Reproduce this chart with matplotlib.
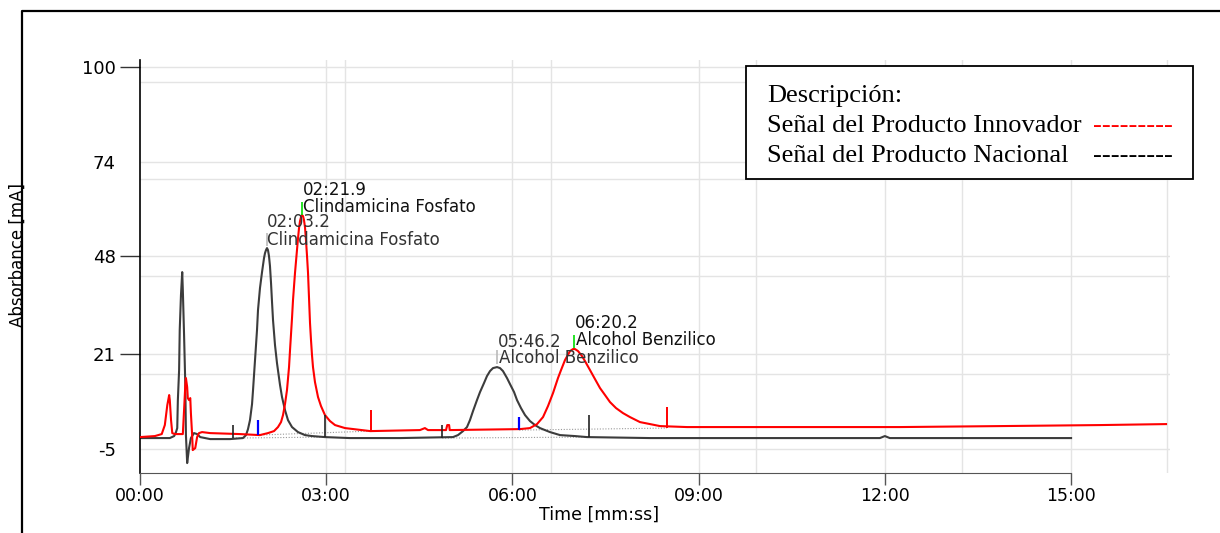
import matplotlib
matplotlib.use("Agg")
import matplotlib.pyplot as plt
from matplotlib.lines import Line2D
from matplotlib.patches import Rectangle

# Producto Nacional (black trace), time in minutes, absorbance in mA
nac_t = [0.00, 0.32, 0.48, 0.55, 0.58, 0.60, 0.61, 0.63, 0.64, 0.66, 0.68, 0.69,
         0.71, 0.73, 0.74, 0.76, 0.77, 0.79, 0.82, 0.87, 0.92, 0.97, 1.13, 1.45,
         1.659, 1.708, 1.740, 1.772, 1.805, 1.821, 1.853, 1.885, 1.901, 1.933, 1.966, 1.998,
         2.014, 2.030, 2.046, 2.062, 2.078, 2.094, 2.111, 2.127, 2.143, 2.175, 2.207, 2.256,
         2.288, 2.336, 2.384, 2.449, 2.545, 2.658, 2.771, 2.98, 3.38, 4.19,
         5.043, 5.123, 5.204, 5.268, 5.316, 5.365, 5.429, 5.478, 5.542, 5.590, 5.639, 5.687,
         5.752, 5.800, 5.848, 5.913, 5.961, 6.026, 6.074, 6.138, 6.203, 6.283, 6.364, 6.444,
         6.605, 6.767, 7.008, 7.202, 8.22, 9.02, 10.63, 11.92, 12.00, 12.08, 13.86, 15.00]
nac_v = [-2.10, -2.10, -2.10, -1.55, -0.45, 0.65, 8.36, 16.62, 27.64, 37.28, 43.61, 38.66,
         26.26, 12.49, -1.28, -8.99, -7.61, -4.86, -2.10, -0.73, -1.00, -1.83, -2.38, -2.38,
         -2.10, -1.28, 0.37, 2.85, 7.26, 11.12, 19.38, 27.64, 33.14, 39.21, 43.61, 47.47,
         48.85, 49.67, 50.22, 49.67, 48.02, 45.27, 40.58, 35.35, 30.39, 23.51, 18.55, 12.49,
         9.19, 5.61, 2.85, 0.93, -0.45, -1.28, -1.55, -1.83, -2.10, -2.10,
         -1.83, -1.28, -0.18, 0.93, 2.85, 5.33, 8.36, 10.57, 13.04, 14.97, 16.35, 17.17,
         17.45, 17.17, 16.35, 14.42, 12.77, 10.57, 8.36, 6.16, 4.23, 2.58, 1.48, 0.65,
         -0.45, -1.28, -1.55, -1.83, -2.10, -2.10, -2.10, -2.10, -1.55, -2.10, -2.10, -2.10]

# Producto Innovador (red trace)
inn_t = [0.00, 0.24, 0.35, 0.40, 0.44, 0.47, 0.48, 0.50, 0.52, 0.56, 0.69, 0.71,
         0.73, 0.74, 0.76, 0.77, 0.79, 0.81, 0.82, 0.84, 0.85, 0.89, 0.92, 0.95,
         1.00, 1.13, 1.61, 1.93,
         2.062, 2.159, 2.223, 2.272, 2.304, 2.336, 2.368, 2.401, 2.417, 2.449, 2.465, 2.497,
         2.529, 2.546, 2.562, 2.578, 2.594, 2.610, 2.626, 2.642, 2.658, 2.674, 2.691, 2.707,
         2.723, 2.739, 2.755, 2.771, 2.787, 2.819, 2.868, 2.916, 2.980, 3.061, 3.142, 3.303,
         3.71, 4.51, 4.59, 4.64, 4.93, 4.95, 4.98, 4.99,
         6.122, 6.283, 6.396, 6.493, 6.573, 6.654, 6.734, 6.783, 6.847, 6.928, 6.976, 7.008,
         7.057, 7.121, 7.169, 7.250, 7.330, 7.411, 7.492, 7.572, 7.669, 7.781, 7.894, 8.055,
         8.217, 8.377, 8.813, 10.63, 12.24, 13.86, 15.47, 16.53]
inn_v = [-1.83, -1.55, -1.00, 1.48, 6.99, 9.74, 8.36, 2.85, -0.73, -1.00, -1.00, 5.61,
         12.49, 14.42, 11.94, 8.91, 8.36, 8.91, 4.78, -1.28, -5.41, -4.86, -1.83, -0.73,
         -0.45, -0.73, -1.00, -1.28,
         -0.73, -0.18, 0.93, 2.30, 4.23, 7.26, 11.12, 17.45, 22.13, 30.95, 35.90, 43.34,
         49.67, 52.98, 55.73, 57.66, 58.76, 59.31, 59.04, 57.93, 56.01, 52.43, 48.02, 43.34,
         36.45, 29.57, 24.89, 20.75, 17.45, 13.32, 9.19, 6.71, 4.23, 2.58, 1.48, 0.65,
         -0.18, 0.10, 0.65, 0.10, 0.10, 1.48, 1.48, 0.10,
         0.37, 0.65, 1.75, 3.68, 6.71, 10.29, 14.42, 16.62, 19.38, 21.86, 22.41, 22.41,
         21.86, 20.48, 19.10, 16.62, 14.15, 11.67, 9.74, 7.81, 6.16, 4.78, 3.68, 2.30,
         1.75, 1.20, 0.93, 0.93, 0.93, 1.20, 1.48, 1.75]

# integration marks (time, lower, upper)
mark_black_t = [1.50, 2.98, 4.87, 7.23]
mark_black_lo = [-2.10, -1.83, -2.10, -1.83]
mark_black_hi = [1.48, 4.23, 1.48, 4.23]
mark_blue_t = [1.90, 6.11]
mark_blue_lo = [-1.28, 0.10]
mark_blue_hi = [2.85, 3.68]
mark_red_t = [3.72, 8.49]
mark_red_lo = [-0.45, 0.65]
mark_red_hi = [5.61, 6.43]
mark_green_t = [2.61, 6.99]
mark_green_lo = [59.31, 22.68]
mark_green_hi = [62.89, 26.26]
mark_gray_t = [2.05, 5.75]
mark_gray_lo = [50.77, 18.28]
mark_gray_hi = [54.36, 22.13]

# integration baselines (start t, start v, end t, end v)
base_nac = [(1.50, -2.10, 2.98, -1.83), (4.87, -2.10, 7.23, -1.83)]
base_inn = [(1.90, -1.28, 3.72, -0.18), (6.11, 0.10, 8.49, 0.65)]

# peak annotations
ann_t = [2.63, 2.63, 2.04, 2.04, 5.76, 5.78, 7.00, 7.03]
ann_v = [66.2, 61.5, 57.4, 52.4, 24.4, 20.0, 29.6, 24.9]
ann_text = ["02:21.9", "Clindamicina Fosfato", "02:03.2", "Clindamicina Fosfato",
            "05:46.2", "Alcohol Benzilico", "06:20.2", "Alcohol Benzilico"]
ann_color = ["#111111", "#111111", "#333333", "#333333",
             "#333333", "#333333", "#111111", "#111111"]

y_ticks = [100, 74, 48, 21, -5]
x_ticks = [0, 3, 6, 9, 12, 15]
x_labels = ["%02d:00" % m for m in x_ticks]
grid2_x = [3.31, 6.62, 9.93, 13.24, 16.55]
grid2_y = [95.9, 69.2, 42.5, 15.5]

W, H = 1220, 533
fig = plt.figure(figsize=(W / 100, H / 100), dpi=100)
ax = fig.add_axes([140 / W, 1 - 473 / H, (1170 - 140) / W, (473 - 60) / H])
ax.set_xlim(0, 16.594)
ax.set_ylim(-11.72, 102.02)

gcol = "#e4e4e4"
for x in x_ticks[1:] + grid2_x:
    ax.axvline(x, color=gcol, lw=1, zorder=0)
for y in y_ticks + grid2_y:
    ax.axhline(y, color=gcol, lw=1, zorder=0)

for t0, v0, t1, v1 in base_nac + base_inn:
    ax.plot([t0, t1], [v0, v1], color="#999999", lw=0.8, ls=(0, (1, 1.5)), zorder=1)

ax.plot(nac_t, nac_v, color="#3c3c3c", lw=1.5, zorder=2)
ax.plot(inn_t, inn_v, color="#ff0000", lw=1.5, zorder=3)

ax.vlines(mark_black_t, mark_black_lo, mark_black_hi, color="#222222", lw=1.2, zorder=4)
ax.vlines(mark_blue_t, mark_blue_lo, mark_blue_hi, color="#0000ff", lw=1.6, zorder=4)
ax.vlines(mark_red_t, mark_red_lo, mark_red_hi, color="#ff0000", lw=1.4, zorder=4)
ax.vlines(mark_green_t, mark_green_lo, mark_green_hi, color="#00dd00", lw=1.2, zorder=4)
ax.vlines(mark_gray_t, mark_gray_lo, mark_gray_hi, color="#bbbbbb", lw=1.2, zorder=4)

for t, v, s, c in zip(ann_t, ann_v, ann_text, ann_color):
    ax.text(t, v, s, ha="left", va="center", fontsize=12, color=c, zorder=5)

ax.spines["top"].set_visible(False)
ax.spines["right"].set_visible(False)
ax.spines["bottom"].set_bounds(0, 15)
ax.spines["bottom"].set_color("#555555")
ax.spines["left"].set_linewidth(1.2)

ax.set_xticks(x_ticks)
ax.set_xticklabels(x_labels)
ax.set_yticks(y_ticks)
ax.set_yticklabels([str(v) for v in y_ticks])
ax.tick_params(axis="x", length=8.5, width=1, color="#555555", pad=1.5, labelsize=12.5)
ax.tick_params(axis="y", length=14.4, width=1, color="#333333", pad=3, labelsize=13)
yt = ax.yaxis.get_major_ticks()
yt[1].tick1line.set_visible(False)
yt[4].tick1line.set_visible(False)

fig.text(18 / W, 1 - 255 / H, "Absorbance [mA]", rotation=90, ha="center", va="center", fontsize=12)
fig.text(599 / W, 1 - 515 / H, "Time [mm:ss]", ha="center", va="center", fontsize=12.5)

# outer frame (top and left only)
fig.add_artist(Line2D([22 / W, 22 / W, 1], [0, 1 - 11 / H, 1 - 11 / H],
                      transform=fig.transFigure, color="black", lw=1.6))

# description box
fig.add_artist(Rectangle((746 / W, 1 - 179 / H), (1193 - 746) / W, (179 - 66) / H,
                         transform=fig.transFigure, facecolor="white",
                         edgecolor="black", lw=1.3))
serif = "Liberation Serif"
fig.text(767 / W, 1 - 102 / H, "Descripción:", family=serif, fontsize=19, va="baseline")
fig.text(767 / W, 1 - 132 / H, "Señal del Producto Innovador", family=serif, fontsize=19, va="baseline")
fig.text(1093 / W, 1 - 132 / H, "---------", family=serif, fontsize=19, va="baseline", color="#ff0000")
fig.text(767 / W, 1 - 162 / H, "Señal del Producto Nacional", family=serif, fontsize=19, va="baseline")
fig.text(1093 / W, 1 - 162 / H, "---------", family=serif, fontsize=19, va="baseline", color="black")

fig.savefig("out.png", dpi=100)
